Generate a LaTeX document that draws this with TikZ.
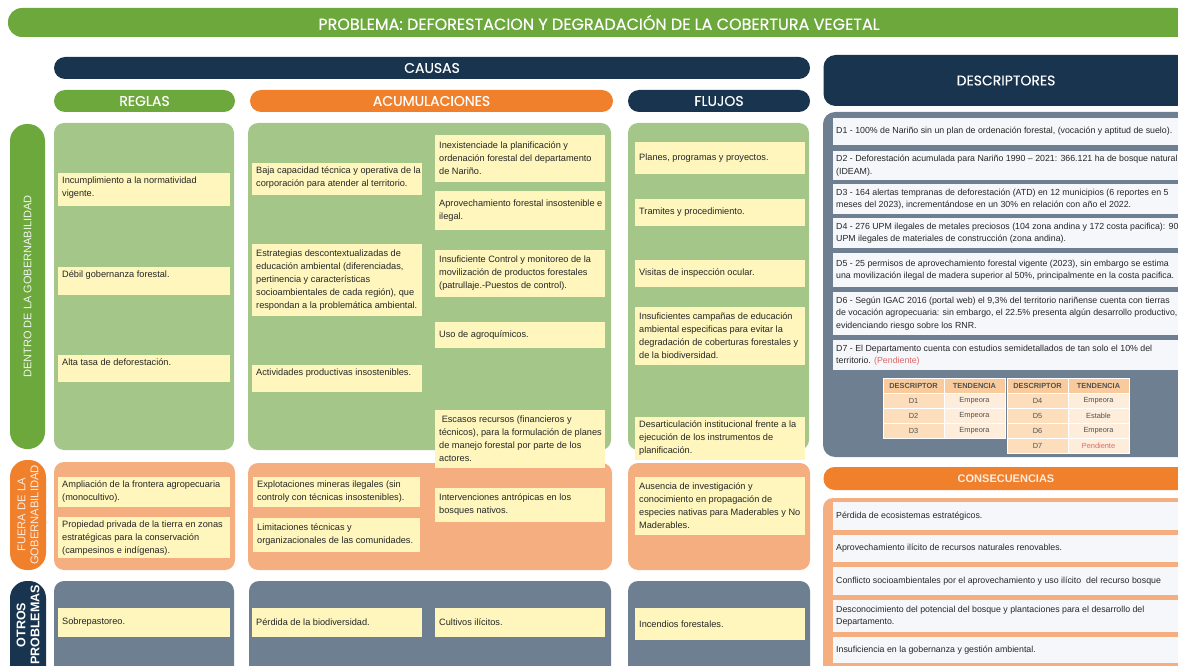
\documentclass[tikz,border=0pt]{standalone}
\usepackage{fontspec}
\setmainfont{Liberation Sans}
\newfontfamily\titulofont[FakeBold=0.4]{Poppins}
\usetikzlibrary{positioning}
\definecolor{verde}{RGB}{108,168,60}
\definecolor{verdeclaro}{RGB}{164,199,137}
\definecolor{marino}{RGB}{24,52,78}
\definecolor{naranja}{RGB}{240,128,44}
\definecolor{salmon}{RGB}{245,174,128}
\definecolor{grisazul}{RGB}{110,127,146}
\definecolor{amarillo}{RGB}{254,246,188}
\definecolor{blanco}{RGB}{245,247,250}
\definecolor{texto}{RGB}{38,38,38}
\definecolor{cabtabla}{RGB}{249,203,156}
\definecolor{celdesc}{RGB}{252,222,188}
\definecolor{celtend}{RGB}{253,237,218}
\definecolor{pend}{RGB}{224,102,102}
\newcommand{\celdafont}{\fontsize{7.4}{9}\selectfont}
\tikzset{
  barra/.style = {rounded corners=11pt, text=white, inner sep=0pt,
    font=\titulofont\fontsize{14}{16}\selectfont},
  etiqueta/.style = {rotate=90, align=center, inner sep=0pt, text=white},
  panel/.style = {rounded corners=10pt},
  nota/.style = {fill=amarillo, inner xsep=4pt, inner ysep=4pt, text=texto, align=left,
    font=\fontsize{9.2}{13}\selectfont},
  desc/.style = {nota, fill=blanco, inner xsep=3pt, font=\fontsize{8.8}{12.4}\selectfont},
  celda/.style = {draw=white, line width=0.8pt, minimum width=61pt, minimum height=15pt,
    inner sep=0pt, text=texto!80, font=\celdafont}
}
% caja con texto centrado / caja con texto arriba
\newcommand{\cajac}[7][nota]{%
  \fill[#1] (#3,#4) rectangle (#5,#6);
  \node[#1, fill=none, anchor=west] (#2) at (#3,{(#4+#6)/2}) {#7};}
\newcommand{\cajat}[7][nota]{%
  \fill[#1] (#3,#4) rectangle (#5,#6);
  \node[#1, fill=none, anchor=north west] (#2) at (#3,#4) {#7};}

\begin{document}
\begin{tikzpicture}[x=1pt, y=-1pt]
\useasboundingbox (0,0) rectangle (1178,666);
\clip (0,0) rectangle (1178,666);

% encabezados
\node[barra, fill=verde, minimum width=1182pt, minimum height=29pt, rounded corners=14pt,
  font=\titulofont\fontsize{16}{18}\selectfont] (problema) at (599,22.5)
  {PROBLEMA: DEFORESTACION Y DEGRADACIÓN DE LA COBERTURA VEGETAL};
\node[barra, fill=marino, minimum width=756pt, minimum height=22pt] (causas) at (432,68) {CAUSAS};
\node[barra, fill=marino, minimum width=365pt, minimum height=51pt, rounded corners=12pt] (descriptores) at (1006,80.5) {DESCRIPTORES};
\node[barra, fill=verde, minimum width=181pt, minimum height=22pt] (reglas) at (144.5,101) {REGLAS};
\node[barra, fill=naranja, minimum width=363pt, minimum height=22pt] (acumulaciones) at (431.5,101) {ACUMULACIONES};
\node[barra, fill=marino, minimum width=182pt, minimum height=22pt] (flujos) at (719,101) {FLUJOS};
\node[barra, fill=naranja, minimum width=365pt, minimum height=23pt, text=white!85!naranja,
  font=\bfseries\fontsize{11}{13}\selectfont] (consecuencias) at (1006,478.5) {CONSECUENCIAS};

% etiquetas de filas
\fill[verde, rounded corners=17pt] (10,124) rectangle (45,449);
\fill[naranja, rounded corners=17pt] (10,460) rectangle (46,570);
\fill[marino, rounded corners=17pt] (10,581) rectangle (46,710);
\node[etiqueta, text=white!90!verde, font=\fontsize{11}{13}\selectfont] (dentro) at (27.5,286.5) {DENTRO DE LA GOBERNABILIDAD};
\node[etiqueta, text=white!85!naranja, font=\fontsize{11.2}{13}\selectfont] (fuera) at (28,515) {FUERA DE LA\\GOBERNABILIDAD};
\node[etiqueta, font=\bfseries\fontsize{12.5}{14}\selectfont] (otros) at (28,625) {OTROS\\PROBLEMAS};

% paneles
\fill[panel, verdeclaro] (54,123) rectangle (234,450);
\fill[panel, verdeclaro] (248,123) rectangle (611,450);
\fill[panel, verdeclaro] (628,123) rectangle (809,450);
\fill[panel, salmon] (54,462) rectangle (235,570);
\fill[panel, salmon] (248,463) rectangle (612,570);
\fill[panel, salmon] (628,463) rectangle (810,570);
\fill[panel, grisazul] (54,581) rectangle (234,710);
\fill[panel, grisazul] (249,581) rectangle (611,710);
\fill[panel, grisazul] (628,581) rectangle (810,710);
\fill[panel, grisazul, rounded corners=12pt] (823,112) rectangle (1195,457);
\fill[panel, salmon] (823,498) rectangle (1195,710);

% reglas
\cajat{r1}{58}{173}{230}{206}{Incumplimiento a la normatividad\\vigente.}
\cajat{r2}{58}{267}{230}{295}{Débil gobernanza forestal.}
\cajat{r3}{58}{355}{230}{382}{Alta tasa de deforestación.}
\cajat{r4}{58}{477}{230}{507}{Ampliación de la frontera agropecuaria\\(monocultivo).}
\cajat{r5}{58}{517}{230}{558}{Propiedad privada de la tierra en zonas\\estratégicas para la conservación\\(campesinos e indígenas).}
\cajac{r6}{58}{608}{230}{637}{Sobrepastoreo.}

% acumulaciones
\cajat{a1}{252}{163}{422}{195}{Baja capacidad técnica y operativa de la\\corporación para atender al territorio.}
\cajac{a2}{252}{244}{422}{316}{Estrategias descontextualizadas de\\educación ambiental (diferenciadas,\\pertinencia y características\\socioambientales de cada región), que\\respondan a la problemática ambiental.}
\cajat{a3}{252}{365}{422}{392}{Actividades productivas insostenibles.}
\cajac{a4}{435}{135}{605}{182}{Inexistenciade la planificación y\\ordenación forestal del departamento\\de Nariño.}
\cajac{a5}{435}{191}{605}{230}{Aprovechamiento forestal insostenible e\\ilegal.}
\cajac{a6}{435}{250}{605}{297}{Insuficiente Control y monitoreo de la\\movilización de productos forestales\\(patrullaje.-Puestos de control).}
\cajac{a7}{435}{322}{605}{348}{Uso de agroquímicos.}
\cajac{a8}{435}{410}{605}{468}{\ Escasos recursos (financieros y\\técnicos), para la formulación de planes\\de manejo forestal por parte de los\\actores.}
\cajat{a9}{253}{477}{420}{507}{Explotaciones mineras ilegales (sin\\controly con técnicas insostenibles).}
\cajac{a10}{253}{518}{420}{552}{Limitaciones técnicas y\\organizacionales de las comunidades.}
\cajac{a11}{435}{488}{605}{522}{Intervenciones antrópicas en los\\bosques nativos.}
\cajac{a12}{252}{608}{422}{637}{Pérdida de la biodiversidad.}
\cajac{a13}{435}{608}{605}{637}{Cultivos ilícitos.}

% flujos
\cajac{f1}{635}{142}{805}{174}{Planes, programas y proyectos.}
\cajac{f2}{635}{199}{805}{226}{Tramites y procedimiento.}
\cajac{f3}{635}{260}{805}{287}{Visitas de inspección ocular.}
\cajac{f4}{635}{307}{805}{365}{Insuficientes campañas de educación\\ambiental especificas para evitar la\\degradación de coberturas forestales y\\de la biodiversidad.}
\cajac{f5}{635}{417}{805}{460}{Desarticulación institucional frente a la\\ejecución de los instrumentos de\\planificación.}
\cajac{f6}{635}{477}{805}{535}{Ausencia de investigación y\\conocimiento en propagación de\\especies nativas para Maderables y No\\Maderables.}
\cajac{f7}{635}{608}{805}{640}{Incendios forestales.}

% descriptores
\cajac[desc]{d1}{833}{118}{1190}{145}{D1 - 100\% de Nariño sin un plan de ordenación forestal, (vocación y aptitud de suelo).}
\cajac[desc]{d2}{833}{151}{1190}{180}{D2 - Deforestación acumulada para Nariño 1990 – 2021: 366.121 ha de bosque natural\\(IDEAM).}
\cajac[desc]{d3}{833}{184}{1190}{214}{D3 - 164 alertas tempranas de deforestación (ATD) en 12 municipios (6 reportes en 5\\meses del 2023), incrementándose en un 30\% en relación con año el 2022.}
\cajac[desc]{d4}{833}{218}{1190}{248}{D4 - 276 UPM ilegales de metales preciosos (104 zona andina y 172 costa pacifica): 90\\UPM ilegales de materiales de construcción (zona andina).}
\cajac[desc]{d5}{833}{253}{1190}{287}{D5 - 25 permisos de aprovechamiento forestal vigente (2023), sin embargo se estima\\una movilización ilegal de madera superior al 50\%, principalmente en la costa pacifica.}
\cajac[desc]{d6}{833}{292}{1190}{335}{D6 - Según IGAC 2016 (portal web) el 9,3\% del territorio nariñense cuenta con tierras\\de vocación agropecuaria: sin embargo, el 22.5\% presenta algún desarrollo productivo,\\evidenciando riesgo sobre los RNR.}
\cajac[desc]{d7}{833}{340}{1190}{370}{D7 - El Departamento cuenta con estudios semidetallados de tan solo el 10\% del\\territorio. {\color{pend}(Pendiente)}}

% tabla de tendencias
\node[celda, fill=cabtabla, font=\celdafont\bfseries] (h1) at (913.5,385.5) {DESCRIPTOR};
\node[celda, fill=cabtabla, font=\celdafont\bfseries] (h2) at (974.5,385.5) {TENDENCIA};
\node[celda, fill=cabtabla, font=\celdafont\bfseries] (h3) at (1037.5,385.5) {DESCRIPTOR};
\node[celda, fill=cabtabla, font=\celdafont\bfseries] (h4) at (1098.5,385.5) {TENDENCIA};
\foreach \d/\t [count=\i] in {D1/Empeora, D2/Empeora, D3/Empeora} {
  \node[celda, fill=celdesc] (ta\i) at (913.5,385.5+15*\i) {\d};
  \node[celda, fill=celtend] (tb\i) at (974.5,385.5+15*\i) {\t};
}
\foreach \d/\t [count=\i] in {D4/Empeora, D5/Estable, D6/Empeora, D7/{\color{pend}Pendiente}} {
  \node[celda, fill=celdesc] (tc\i) at (1037.5,385.5+15*\i) {\d};
  \node[celda, fill=celtend] (td\i) at (1098.5,385.5+15*\i) {\t};
}

% consecuencias
\cajac[desc]{c1}{833}{502}{1190}{530}{Pérdida de ecosistemas estratégicos.}
\cajac[desc]{c2}{833}{535}{1190}{562}{Aprovechamiento ilícito de recursos naturales renovables.}
\cajac[desc]{c3}{833}{567}{1190}{595}{Conflicto socioambientales por el aprovechamiento y uso ilícito \ del recurso bosque}
\cajac[desc]{c4}{833}{600}{1190}{632}{Desconocimiento del potencial del bosque y plantaciones para el desarrollo del\\Departamento.}
\cajac[desc]{c5}{833}{637}{1190}{663}{Insuficiencia en la gobernanza y gestión ambiental.}
\end{tikzpicture}
\end{document}
